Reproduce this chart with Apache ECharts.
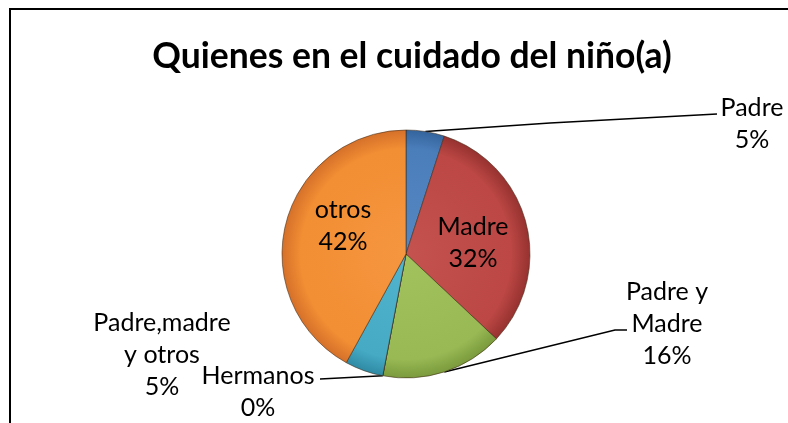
<!DOCTYPE html>
<html>
<head>
<meta charset="utf-8">
<script src="https://cdn.jsdelivr.net/npm/echarts@6/dist/echarts.min.js"></script>
<style>
html,body{margin:0;padding:0;background:#fff;}
#chart{width:788px;height:423px;}
</style>
</head>
<body>
<div id="chart"></div>
<script>
// ---- data ----
const categories = ['Padre', 'Madre', 'Padre y Madre', 'Hermanos', 'Padre,madre y otros', 'otros'];
const values = [5, 32, 16, 0, 5, 42];
const titleText = 'Quienes en el cuidado del niño(a)';

// ---- style / layout ----
const baseColors = ['#4a7ebb', '#bc4744', '#98b954', '#7d60a0', '#46aac5', '#f28e33'];
const darkColors = ['#35649c', '#963230', '#7a9a3c', '#5f4682', '#2f8aa4', '#d5702a'];
const lightColors = ['#5687c2', '#c4524f', '#a2c25e', '#8d70b0', '#52b4cf', '#f59640'];
const CX = 406, CY = 254, R = 124;
const labelBreaks = {'Padre y Madre': 'Padre y\nMadre', 'Padre,madre y otros': 'Padre,madre\ny otros'};
const labelPos = [
  {x: 752, y: 124, inside: false, elbow: [[550, 123], [717, 114]]},
  {x: 473, y: 243, inside: true},
  {x: 667, y: 324, inside: false, elbow: [[615, 330], [627, 330]]},
  {x: 258, y: 392, inside: false, elbow: [[320, 379]]},
  {x: 162, y: 355, inside: false, noLine: true},
  {x: 343, y: 226, inside: true}
];

const chart = echarts.init(document.getElementById('chart'));
const pieData = categories.map((name, i) => ({
  name: name,
  value: values[i],
  itemStyle: {
    color: {
      type: 'radial', x: CX, y: CY, r: R, global: true,
      colorStops: [
        {offset: 0, color: lightColors[i]},
        {offset: 0.85, color: baseColors[i]},
        {offset: 1, color: darkColors[i]}
      ]
    }
  },
  label: {position: labelPos[i].inside ? 'inside' : 'outside'},
  labelLine: {show: !labelPos[i].inside && !labelPos[i].noLine}
}));

chart.setOption({
  animation: false,
  backgroundColor: '#ffffff',
  graphic: [{
    type: 'rect',
    shape: {x: 10, y: 9, width: 820, height: 500},
    style: {fill: 'none', stroke: '#000', lineWidth: 2}
  }],
  title: {
    text: titleText,
    left: 407,
    top: 34,
    textAlign: 'center',
    textStyle: {fontFamily: 'Lato', fontWeight: 'bold', fontSize: 35.5, color: '#000'}
  },
  series: [{
    type: 'pie',
    center: [CX, CY],
    radius: R,
    startAngle: 90,
    clockwise: true,
    avoidLabelOverlap: false,
    stillShowZeroSum: true,
    data: pieData,
    itemStyle: {borderColor: 'rgba(60,40,20,0.55)', borderWidth: 1},
    label: {
      show: true,
      formatter: p => (labelBreaks[p.name] || p.name) + '\n' + p.value + '%',
      fontFamily: 'Lato',
      fontSize: 25,
      lineHeight: 32,
      color: '#000',
      align: 'center'
    },
    labelLine: {lineStyle: {color: '#000', width: 1.5}, length: 20, length2: 20},
    labelLayout: function (params) {
      const lp = labelPos[params.dataIndex];
      const out = {x: lp.x, y: lp.y, align: 'center', verticalAlign: 'middle'};
      if (lp.elbow && params.labelLinePoints) {
        out.labelLinePoints = [params.labelLinePoints[0]].concat(lp.elbow);
      }
      return out;
    }
  }]
});
</script>
</body>
</html>
